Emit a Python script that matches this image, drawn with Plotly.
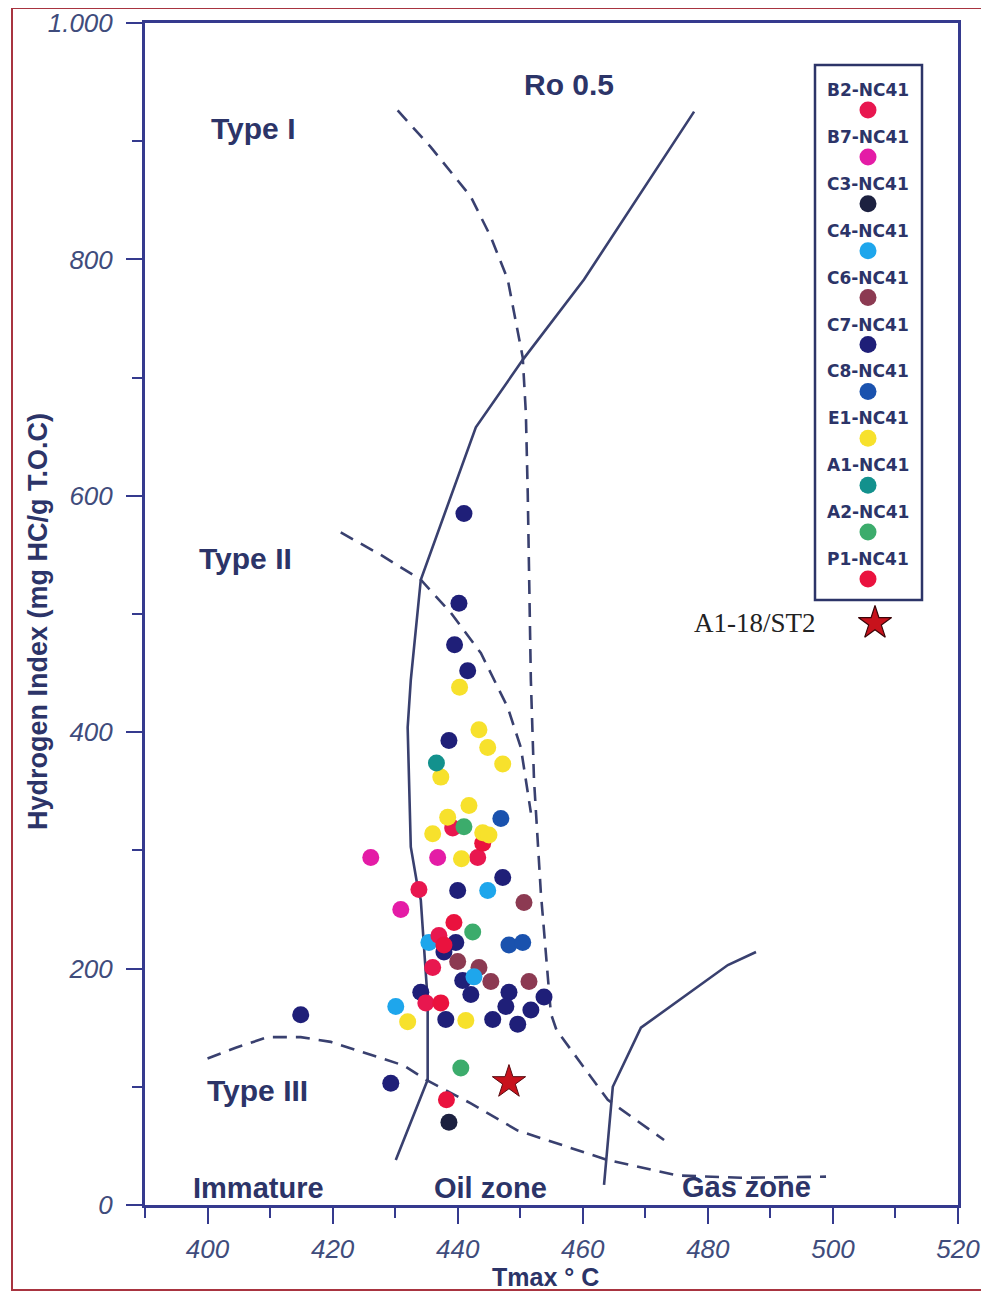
import plotly.graph_objects as go

# ---------------- data (Tmax °C, HI mg HC/g TOC) ----------------
b2_tmax = [439.2, 443.2, 433.8, 437.0, 436.0, 434.9]
b2_hi = [319, 294, 267, 228, 201, 171]
b7_tmax = [426.1, 436.8, 430.9]
b7_hi = [294, 294, 250]
c3_tmax = [438.6]
c3_hi = [70]
c4_tmax = [444.8, 435.4, 430.1, 442.6]
c4_hi = [266, 222, 168, 193]
c6_tmax = [450.6, 440.0, 443.4, 445.3, 451.4]
c6_hi = [256, 206, 201, 189, 189]
c7_tmax = [441.0, 440.2, 439.5, 441.6, 438.6, 447.2, 440.0, 439.7, 437.8, 440.8,
           442.1, 448.2, 434.1, 453.8, 447.7, 451.7, 438.1, 445.6, 449.6, 414.9, 429.3]
c7_hi = [585, 509, 474, 452, 393, 277, 266, 222, 214, 190,
         178, 180, 180, 176, 168, 165, 157, 157, 153, 161, 103]
c8_tmax = [446.9, 448.2, 450.4]
c8_hi = [327, 220, 222]
e1_tmax = [440.3, 443.4, 444.8, 447.2, 437.3, 441.8, 438.4, 436.0, 444.0, 445.0,
           440.6, 432.0, 441.3]
e1_hi = [438, 402, 387, 373, 362, 338, 328, 314, 315, 313, 293, 155, 156]
a1_tmax = [436.6]
a1_hi = [374]
a2_tmax = [441.0, 442.4, 440.5]
a2_hi = [320, 231, 116]
p1_tmax = [444.0, 439.4, 437.8, 437.3, 438.2]
p1_hi = [306, 239, 220, 171, 89]
star_tmax = [448.2]
star_hi = [104]

legend_names = ["B2-NC41", "B7-NC41", "C3-NC41", "C4-NC41", "C6-NC41", "C7-NC41",
                "C8-NC41", "E1-NC41", "A1-NC41", "A2-NC41", "P1-NC41"]
legend_colors = ["#e8174f", "#e41ca6", "#1c2140", "#1ea6ec", "#8c3a52", "#1f1f78",
                 "#1a52ae", "#f7e12c", "#13918d", "#3cac6c", "#ea123e"]
star_name = "A1-18/ST2"

# ---------------- reference curves ----------------
immature_tmax = [430.1, 435.2, 435.2, 434.1, 433.6, 432.5, 432.0, 432.5, 434.1, 438.9,
                 442.9, 450.4, 460.2, 477.8]
immature_hi = [38, 106, 173, 258, 269, 303, 404, 444, 529, 599, 658, 715, 783, 925]
ro_tmax = [430.4, 435.7, 442.1, 445.3, 448.0, 449.6, 450.4, 450.9, 451.2, 451.7, 452.2,
           453.3, 454.9, 455.8, 464.0, 473.0]
ro_hi = [926, 895, 853, 819, 783, 738, 717, 670, 602, 444, 360, 264, 162, 148, 89, 55]
type2_tmax = [421.3, 427.7, 434.1, 438.9, 443.7, 448.0, 450.1, 451.7]
type2_hi = [569, 550, 529, 501, 467, 421, 387, 332]
type3_tmax = [400.0, 404.5, 409.6, 414.9, 419.7, 426.1, 431.4, 434.9, 442.1, 449.6,
              456.5, 464.0, 475.2, 485.3, 498.9]
type3_hi = [124, 133, 142, 142, 138, 127, 118, 106, 86, 63, 51, 38, 25, 23, 24]
gas_tmax = [463.4, 464.8, 469.3, 483.2, 487.7]
gas_hi = [17, 100, 150, 203, 214]

series = [
    (b2_tmax, b2_hi), (b7_tmax, b7_hi), (c3_tmax, c3_hi), (c4_tmax, c4_hi),
    (c6_tmax, c6_hi), (c7_tmax, c7_hi), (c8_tmax, c8_hi), (e1_tmax, e1_hi),
    (a1_tmax, a1_hi), (a2_tmax, a2_hi), (p1_tmax, p1_hi),
]

LINE = "#39406f"
NAVY = "#2c3468"
TICK = "#3f4c7c"

fig = go.Figure()

for xs, ys, dash in [(immature_tmax, immature_hi, "solid"), (ro_tmax, ro_hi, "14px,9px"),
                     (type2_tmax, type2_hi, "14px,9px"), (type3_tmax, type3_hi, "14px,9px"),
                     (gas_tmax, gas_hi, "solid")]:
    fig.add_trace(go.Scatter(x=xs, y=ys, mode="lines", showlegend=False, hoverinfo="skip",
                             line=dict(color=LINE, width=2.6, dash=dash)))

order = [5, 6, 2, 4, 3, 0, 10, 1, 7, 8, 9]
for i in order:
    xs, ys = series[i]
    fig.add_trace(go.Scatter(x=xs, y=ys, mode="markers", name=legend_names[i], showlegend=False,
                             marker=dict(size=17, color=legend_colors[i], line=dict(width=0))))

fig.add_trace(go.Scatter(x=star_tmax, y=star_hi, mode="markers", name=star_name, showlegend=False,
                         marker=dict(symbol="star", size=25, color="#c8121c",
                                     line=dict(color="#5a0a10", width=1))))

# ---------------- custom legend (overlay axes in plot-fraction units) ----------------
# screenshot pixel -> plot-area fraction (page has an 8px body margin)
W, H, L, B = 813.0, 1182.0, 145.0, 1205.0
def fx(px):
    return (px - L) / W
def fy(py):
    return (B - py) / H

step = 46.9
leg_x = fx(868)
dot_y = [fy(110 + step * i) for i in range(len(legend_names))]
lab_y = [fy(90 + step * i) for i in range(len(legend_names))]
fig.add_trace(go.Scatter(x=[leg_x] * len(legend_names), y=dot_y, xaxis="x2", yaxis="y2",
                         mode="markers", showlegend=False, hoverinfo="skip", cliponaxis=False,
                         marker=dict(size=17, color=legend_colors)))
fig.add_trace(go.Scatter(x=[fx(875)], y=[fy(623)], xaxis="x2", yaxis="y2", mode="markers",
                         showlegend=False, hoverinfo="skip", cliponaxis=False,
                         marker=dict(symbol="star", size=25, color="#c8121c",
                                     line=dict(color="#3a0508", width=1.2))))

annotations = []
for name, yy in zip(legend_names, lab_y):
    annotations.append(dict(xref="paper", yref="paper", x=leg_x, y=yy, text=name,
                            showarrow=False, xanchor="center", yanchor="middle",
                            font=dict(family="DejaVu Sans", size=17, color=NAVY, weight="bold")))
annotations.append(dict(xref="paper", yref="paper", x=fx(755), y=fy(623), text=star_name,
                        showarrow=False, xanchor="center", yanchor="middle",
                        font=dict(family="Liberation Serif", size=27, color="#222222")))

big = dict(family="Liberation Sans", size=30, color=NAVY, weight="bold")
zone = dict(family="Liberation Sans", size=29, color=NAVY, weight="bold")
for txt, x, y, f in [("Ro 0.5", 457.8, 948, big), ("Type I", 407.2, 911, big),
                     ("Type II", 406.1, 547, big), ("Type III", 408.0, 97, big),
                     ("Immature", 408.2, 14, zone), ("Oil zone", 445.3, 14, zone),
                     ("Gas zone", 486.2, 15, zone)]:
    annotations.append(dict(xref="x", yref="y", x=x, y=y, text=txt, showarrow=False,
                            xanchor="center", yanchor="middle", font=f))

annotations.append(dict(xref="paper", yref="paper", x=fx(38), y=fy(622), text="Hydrogen Index (mg HC/g T.O.C)",
                        textangle=-90, showarrow=False, xanchor="center", yanchor="middle",
                        font=dict(family="Liberation Sans", size=27, color=NAVY, weight="bold")))
annotations.append(dict(xref="paper", yref="paper", x=fx(545), y=fy(1277), text="Tmax ° C",
                        showarrow=False, xanchor="center", yanchor="middle",
                        font=dict(family="Liberation Sans", size=25, color=NAVY, weight="bold")))

shapes = [
    dict(type="rect", xref="paper", yref="paper", x0=fx(815), x1=fx(922), y0=fy(600), y1=fy(65),
         line=dict(color=NAVY, width=2.5), fillcolor="rgba(0,0,0,0)"),
    dict(type="rect", xref="paper", yref="paper", x0=fx(12), x1=fx(985), y0=fy(1290), y1=fy(8),
         line=dict(color="#a83440", width=2), fillcolor="rgba(0,0,0,0)", layer="below"),
]

tickfont = dict(family="Liberation Sans", size=26, color=TICK, style="italic")
AX = "#353a8e"
fig.update_layout(
    width=989, height=1297,
    margin=dict(l=137, r=39, t=15, b=100, autoexpand=False),
    paper_bgcolor="white", plot_bgcolor="white",
    showlegend=False,
    annotations=annotations, shapes=shapes,
    xaxis=dict(range=[390, 520], tickmode="linear", tick0=400, dtick=20, automargin=False,
               ticks="outside", ticklen=16, tickwidth=2, tickcolor=AX,
               minor=dict(ticks="outside", ticklen=10, tickwidth=2, tickcolor=AX, tick0=390, dtick=10),
               showline=True, linecolor=AX, linewidth=3, mirror=True,
               showgrid=False, zeroline=False, tickfont=tickfont, ticklabelstandoff=3),
    yaxis=dict(range=[0, 1000], tickmode="array", tickvals=[0, 200, 400, 600, 800, 1000],
               ticktext=["0", "200", "400", "600", "800", "1.000"], automargin=False,
               ticks="outside", ticklen=16, tickwidth=2, tickcolor=AX,
               minor=dict(ticks="outside", ticklen=10, tickwidth=2, tickcolor=AX,
                          tickmode="array", tickvals=[100, 300, 500, 700, 900]),
               showline=True, linecolor=AX, linewidth=3, mirror=True,
               showgrid=False, zeroline=False, tickfont=tickfont, ticklabelstandoff=8),
    xaxis2=dict(overlaying="x", range=[0, 1], visible=False, automargin=False),
    yaxis2=dict(overlaying="y", range=[0, 1], visible=False, automargin=False),
)

fig.write_html("out.html")
